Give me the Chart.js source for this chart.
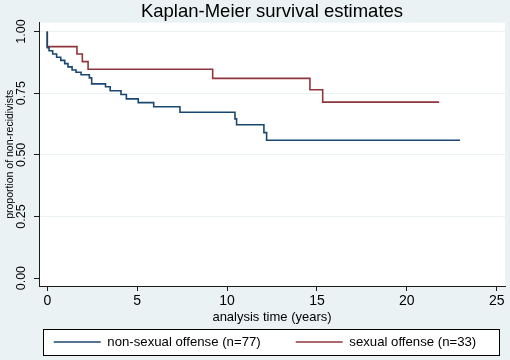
<!DOCTYPE html>
<html>
<head>
<meta charset="utf-8">
<script src="https://cdn.jsdelivr.net/npm/chart.js@4/dist/chart.umd.min.js"></script>
<style>
  body { margin: 0; background: #eaf2f3; }
  #wrap { width: 510px; height: 360px; }
</style>
</head>
<body>
<div id="wrap"><canvas id="km" width="510" height="360"></canvas></div>
<script>
// analysis time (years) and survival estimate at each step
const nonSexTime = [0, 0, 0.1, 0.3, 0.52, 0.75, 0.97, 1.15, 1.38, 1.6, 1.88, 2.34, 2.47, 3.24, 3.5, 4.1, 4.4, 5.06, 5.92, 7.38, 10.44, 10.53, 12.05, 12.2, 22.96]
const nonSexSurv = [1, 0.935, 0.922, 0.909, 0.896, 0.883, 0.870, 0.857, 0.844, 0.835, 0.825, 0.812, 0.788, 0.776, 0.760, 0.745, 0.727, 0.712, 0.695, 0.673, 0.646, 0.622, 0.590, 0.559, 0.559]

const sexTime = [0, 0, 1.65, 1.95, 2.27, 9.2, 14.61, 15.32, 21.8]
const sexSurv = [1, 0.939, 0.909, 0.878, 0.847, 0.810, 0.764, 0.714, 0.714]

const xTicks = [0, 5, 10, 15, 20, 25]
const yTicks = [0, 0.25, 0.5, 0.75, 1]

const seriesNames = ['non-sexual offense (n=77)', 'sexual offense (n=33)']
const seriesColors = ['#1a476f', '#90353b']

const LEGEND_FONT = 13.2

const toPoints = (xs, ys) => xs.map((x, i) => ({ x: x, y: ys[i] }))

Chart.defaults.font.family = '"Liberation Sans", Arial, sans-serif'
Chart.defaults.color = '#000'

// stata look: grey page, white plot region, boxed legend
const stataLook = {
  id: 'stataLook',
  afterLayout(chart) {
    const a = chart.chartArea
    chart.titleBlock.left = a.left
    chart.titleBlock.right = a.right
    const lg = chart.legend
    chart.$legendBox = { left: a.left + 4, right: a.right - 6, top: lg.top + 3, bottom: lg.bottom - 5 }
    const mid = (chart.$legendBox.top + chart.$legendBox.bottom) / 2
    lg.top = mid - lg.options.labels.padding - LEGEND_FONT / 2
    // items centred a little left of the box, wide enough so nothing wraps
    const cx = (a.left + a.right) / 2 - 7
    lg.left = cx - 300
    lg.right = cx + 300
  },
  beforeDraw(chart) {
    const { ctx, chartArea: a } = chart
    const b = chart.$legendBox
    ctx.save()
    ctx.fillStyle = '#eaf2f3'
    ctx.fillRect(0, 0, chart.width, chart.height)
    ctx.fillStyle = '#fff'
    ctx.fillRect(a.left, a.top, a.right - a.left, a.bottom - a.top)
    ctx.fillRect(b.left, b.top, b.right - b.left, b.bottom - b.top)
    ctx.strokeStyle = '#000'
    ctx.lineWidth = 1
    ctx.strokeRect(Math.round(b.left) + 0.5, Math.round(b.top) + 0.5, Math.round(b.right - b.left), Math.round(b.bottom - b.top))
    ctx.restore()
  }
}

new Chart(document.getElementById('km'), {
  type: 'line',
  data: {
    datasets: [
      {
        label: seriesNames[0],
        data: toPoints(nonSexTime, nonSexSurv),
        borderColor: seriesColors[0],
        backgroundColor: seriesColors[0],
        borderWidth: 1.6,
        stepped: true,
        pointRadius: 0,
        fill: false
      },
      {
        label: seriesNames[1],
        data: toPoints(sexTime, sexSurv),
        borderColor: seriesColors[1],
        backgroundColor: seriesColors[1],
        borderWidth: 1.6,
        stepped: true,
        pointRadius: 0,
        fill: false
      }
    ]
  },
  options: {
    responsive: false,
    animation: false,
    layout: { padding: { right: 5 } },
    plugins: {
      title: {
        display: true,
        text: 'Kaplan-Meier survival estimates',
        font: { size: 18.5, weight: 'normal' },
        color: '#000',
        padding: { top: 0.5, bottom: 0 }
      },
      legend: {
        position: 'bottom',
        maxHeight: 34,
        labels: {
          usePointStyle: true,
          pointStyle: 'line',
          pointStyleWidth: 47,
          padding: 35,
          font: { size: LEGEND_FONT }
        }
      },
      tooltip: { enabled: false }
    },
    scales: {
      x: {
        type: 'linear',
        min: -0.46,
        max: 25.46,
        afterBuildTicks: s => { s.ticks = xTicks.map(v => ({ value: v })) },
        afterFit: s => { s.height = 40 },
        border: { color: '#1c1c1c', width: 1 },
        grid: { drawOnChartArea: false, tickLength: 5, tickColor: '#1c1c1c' },
        ticks: { font: { size: 14 }, padding: 2, maxRotation: 0 },
        title: {
          display: true,
          text: 'analysis time (years)',
          font: { size: 13 },
          padding: { top: 0, bottom: 1.2 }
        }
      },
      y: {
        min: -0.032,
        max: 1.036,
        afterBuildTicks: s => { s.ticks = yTicks.map(v => ({ value: v })) },
        afterFit: s => { s.width = 39 },
        border: { color: '#1c1c1c', width: 1 },
        grid: {
          color: ctx => (ctx.tick && ctx.tick.value === 0 ? 'rgba(0,0,0,0)' : '#eaf2f3'),
          lineWidth: 1,
          tickLength: 5,
          tickColor: '#1c1c1c'
        },
        ticks: {
          font: { size: 12.5 },
          minRotation: 90,
          maxRotation: 90,
          crossAlign: 'center',
          padding: 0,
          callback: v => v.toFixed(2)
        },
        title: {
          display: true,
          text: 'proportion of non-recidivists',
          font: { size: 10.5 },
          padding: { top: 4, bottom: 0 }
        }
      }
    }
  },
  plugins: [stataLook]
})
</script>
</body>
</html>
